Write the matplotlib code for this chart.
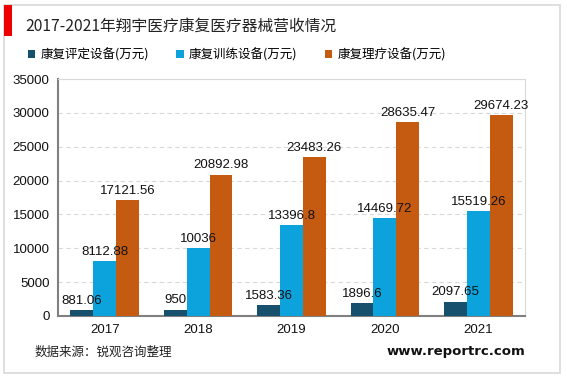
import numpy as np
import matplotlib
matplotlib.use('Agg')
from matplotlib import pyplot as plt
from matplotlib.patches import Rectangle

plt.rcParams['font.family'] = ['Noto Sans CJK SC', 'DejaVu Sans']

years = ['2017', '2018', '2019', '2020', '2021']
names = ['康复评定设备(万元)', '康复训练设备(万元)', '康复理疗设备(万元)']
pingding = [881.06, 950, 1583.36, 1896.6, 2097.65]
xunlian = [8112.88, 10036, 13396.8, 14469.72, 15519.26]
liliao = [17121.56, 20892.98, 23483.26, 28635.47, 29674.23]
labels = [['881.06', '950', '1583.36', '1896.6', '2097.65'],
          ['8112.88', '10036', '13396.8', '14469.72', '15519.26'],
          ['17121.56', '20892.98', '23483.26', '28635.47', '29674.23']]
colors = ['#17506c', '#0ca2dc', '#c55a11']
numfont = ['Liberation Sans', 'DejaVu Sans']

W, H = 567, 378
fig = plt.figure(figsize=(W / 100, H / 100), dpi=100)

# outer frame and red marker
fig.patches.append(Rectangle((4 / W, 1 - 373 / H), 556 / W, 368 / H, transform=fig.transFigure,
                             fill=False, edgecolor='#d9d9d9', linewidth=1.2))
fig.patches.append(Rectangle((4 / W, 1 - 36 / H), 8 / W, 31 / H, transform=fig.transFigure,
                             facecolor='#ee0000', edgecolor='none'))

fig.text(25 / W, 1 - 26 / H, '2017-2021年翔宇医疗康复医疗器械营收情况', fontsize=11.3,
         va='center', ha='left', color='#222222')

ax = fig.add_axes([58 / W, 1 - 316 / H, (525 - 58) / W, (316 - 79) / H])
x = np.arange(len(years))
bw = 0.245
series = [pingding, xunlian, liliao]
for i, s in enumerate(series):
    bars = ax.bar(x + (i - 1) * bw, s, bw, color=colors[i], label=names[i], zorder=3)
    for b, t in zip(bars, labels[i]):
        ax.text(b.get_x() + b.get_width() / 2, b.get_height() + 500, t, ha='center', va='bottom',
                fontsize=9.5, family=numfont, color='#111111', zorder=6)

ax.set_xlim(-0.5, 4.5)
ax.set_ylim(0, 35000)
ax.set_yticks(np.arange(0, 35001, 5000))
ax.set_xticks(x)
ax.set_xticklabels(years)
ax.tick_params(axis='both', length=0, labelsize=9.5, colors='#111111', pad=6)
for lab in ax.get_xticklabels() + ax.get_yticklabels():
    lab.set_family(numfont)
ax.yaxis.grid(True, linestyle=(0, (4, 3)), color='#d9d9d9', linewidth=0.8, zorder=0)
ax.spines['left'].set_color('#808080')
ax.spines['bottom'].set_color('#808080')
ax.spines['left'].set_linewidth(1.5)
ax.spines['bottom'].set_linewidth(1.5)
ax.spines['top'].set_color('#d9d9d9')
ax.spines['right'].set_color('#d9d9d9')

ax.legend(loc='upper left', bbox_to_anchor=(-0.075, 1.15), ncol=3, frameon=False, fontsize=9,
          handlelength=0.6, handleheight=0.6, handletextpad=0.4, columnspacing=2.2,
          borderaxespad=0)

fig.text(35 / W, 1 - 352 / H, '数据来源：锐观咨询整理', fontsize=9, va='center', ha='left',
         color='#222222')
fig.text(525 / W, 1 - 352 / H, 'www.reportrc.com', fontsize=9.5, fontweight='bold', va='center',
         ha='right', color='#111111', family=['DejaVu Sans'])

fig.savefig('out.png', dpi=100)
